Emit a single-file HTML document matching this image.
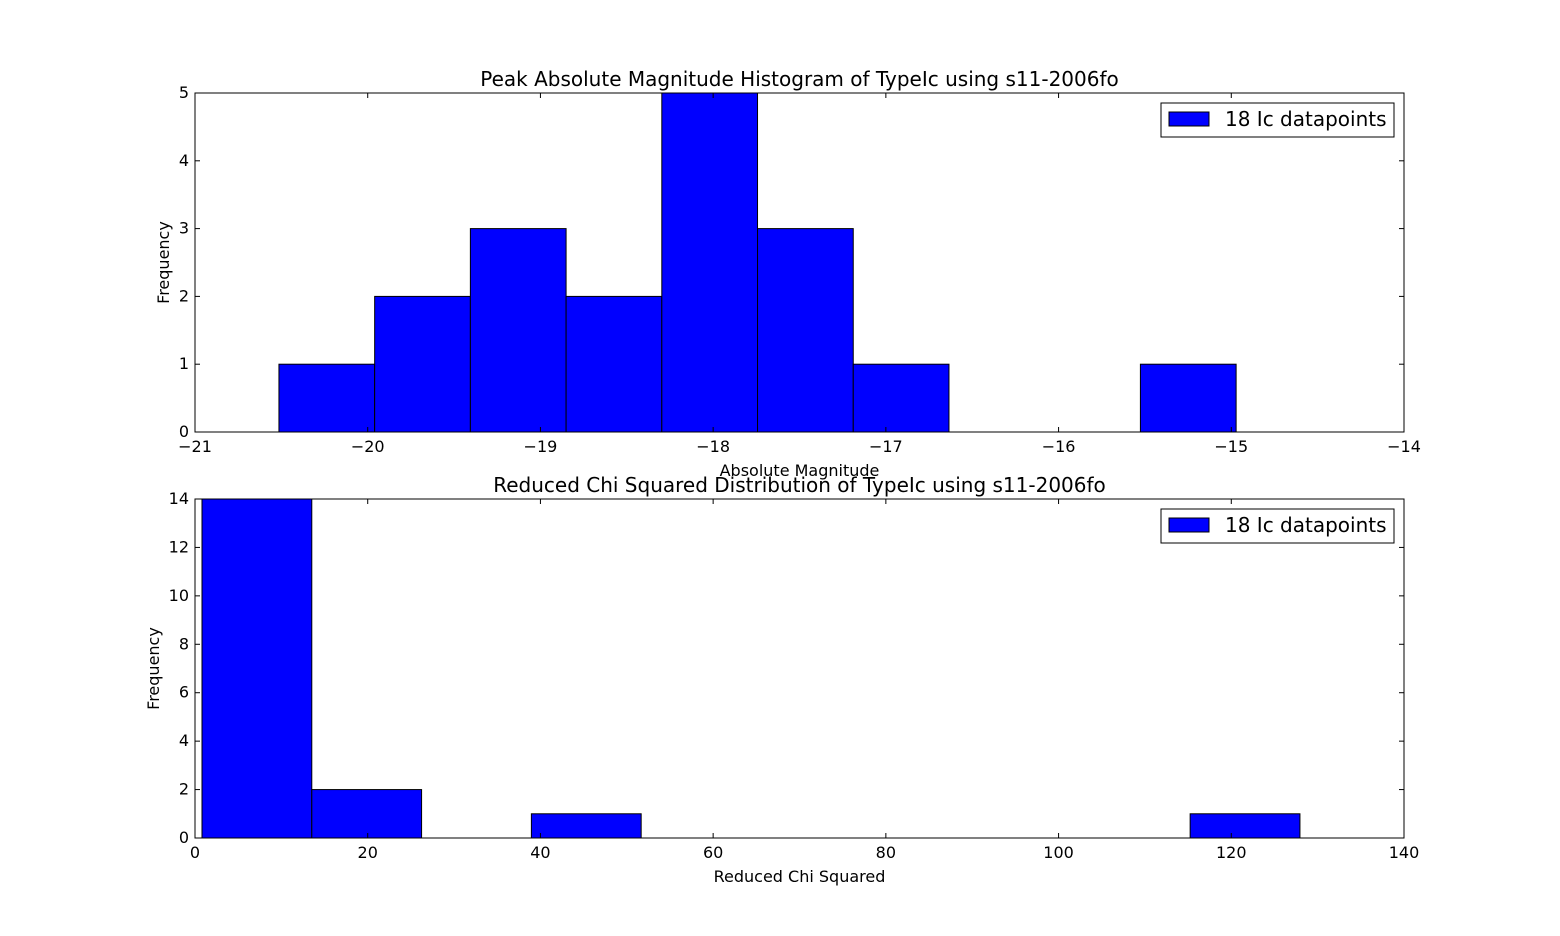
<!DOCTYPE html>
<html><head><meta charset="utf-8"><style>
body{margin:0;background:#fff;}
svg text{font-family:"DejaVu Sans","Liberation Sans",sans-serif;fill:#000;}
</style></head><body>
<svg id="c" width="1560" height="931" xmlns="http://www.w3.org/2000/svg"></svg>
<script>
// Top histogram data
const magEdgeStart = -20.514;
const magBinWidth = 0.5542;
const magCounts = [1,2,3,2,5,3,1,0,0,1];
const magXTicks = [-21,-20,-19,-18,-17,-16,-15,-14];
const magYTicks = [0,1,2,3,4,5];
// Bottom histogram data
const chiEdgeStart = 0.81;
const chiBinWidth = 12.714;
const chiCounts = [14,2,0,1,0,0,0,0,0,1];
const chiXTicks = [0,20,40,60,80,100,120,140];
const chiYTicks = [0,2,4,6,8,10,12,14];

const svg = document.getElementById('c');
const NS = 'http://www.w3.org/2000/svg';
function mk(tag, attrs, text){
  const e = document.createElementNS(NS, tag);
  for (const k in attrs) e.setAttribute(k, attrs[k]);
  if (text !== undefined) e.textContent = text;
  svg.appendChild(e);
  return e;
}
function fmt(v){ return v < 0 ? '\u2212' + Math.abs(v) : String(v); }

function panel(o){
  const L=195,R=1404,T=o.top,B=o.bottom;
  const xs = v => L + (v - o.xmin)/(o.xmax - o.xmin)*(R-L);
  const ys = v => B - (v - o.ymin)/(o.ymax - o.ymin)*(B-T);
  for (let i=0;i<o.counts.length;i++){
    if (o.counts[i] <= 0) {
      const l = mk('line',{x1:xs(o.start+i*o.w),x2:xs(o.start+(i+1)*o.w),y1:B,y2:B,stroke:'#000'});
      
      
      continue;
    }
    const x0 = xs(o.start+i*o.w), x1 = xs(o.start+(i+1)*o.w), y = ys(o.counts[i]);
    const r = mk('rect',{x:x0,y:y,width:x1-x0,height:B-y,fill:'#0000ff',stroke:'#000','stroke-width':1});
    
    
  }
  const f = mk('rect',{x:L,y:T,width:R-L,height:B-T,fill:'none',stroke:'#000','stroke-width':1});
  
  
  o.xticks.forEach(t=>{
    const x = xs(t);
    mk('line',{x1:x,x2:x,y1:B,y2:B-5,stroke:'#000'});
    mk('line',{x1:x,x2:x,y1:T,y2:T+5,stroke:'#000'});
    const tx = mk('text',{x:x,y:B+20,'text-anchor':'middle','font-size':16},fmt(t));
    
    
  });
  o.yticks.forEach(t=>{
    const y = ys(t);
    mk('line',{x1:L,x2:L+5,y1:y,y2:y,stroke:'#000'});
    mk('line',{x1:R,x2:R-5,y1:y,y2:y,stroke:'#000'});
    const tx = mk('text',{x:L-6,y:y+5,'text-anchor':'end','font-size':16},fmt(t));
    
    
  });
  const ti = mk('text',{x:(L+R)/2,y:T-7,'text-anchor':'middle','font-size':20},o.title);
  
  
  const xl = mk('text',{x:(L+R)/2,y:B+44,'text-anchor':'middle','font-size':16},o.xlabel);
  
  
  const yl = mk('text',{x:0,y:0,'text-anchor':'middle','font-size':16,transform:`translate(${o.ylx},${(T+B)/2}) rotate(-90)`},'Frequency');
  
  
  const lg = mk('rect',{x:1161,y:T+10,width:233,height:34,fill:'#fff',stroke:'#000'});
  
  
  mk('rect',{x:1169,y:T+19,width:40,height:14,fill:'#0000ff',stroke:'#000'});
  const lt = mk('text',{x:1225,y:T+33,'font-size':20},'18 Ic datapoints');
  
  
}
panel({prefix:'magnitude',top:93,bottom:432,xmin:-21,xmax:-14,ymin:0,ymax:5,start:magEdgeStart,w:magBinWidth,counts:magCounts,xticks:magXTicks,yticks:magYTicks,title:'Peak Absolute Magnitude Histogram of TypeIc using s11-2006fo',xlabel:'Absolute Magnitude',ylx:169});
panel({prefix:'chi',top:499,bottom:838,xmin:0,xmax:140,ymin:0,ymax:14,start:chiEdgeStart,w:chiBinWidth,counts:chiCounts,xticks:chiXTicks,yticks:chiYTicks,title:'Reduced Chi Squared Distribution of TypeIc using s11-2006fo',xlabel:'Reduced Chi Squared',ylx:159});
</script>
</body></html>
